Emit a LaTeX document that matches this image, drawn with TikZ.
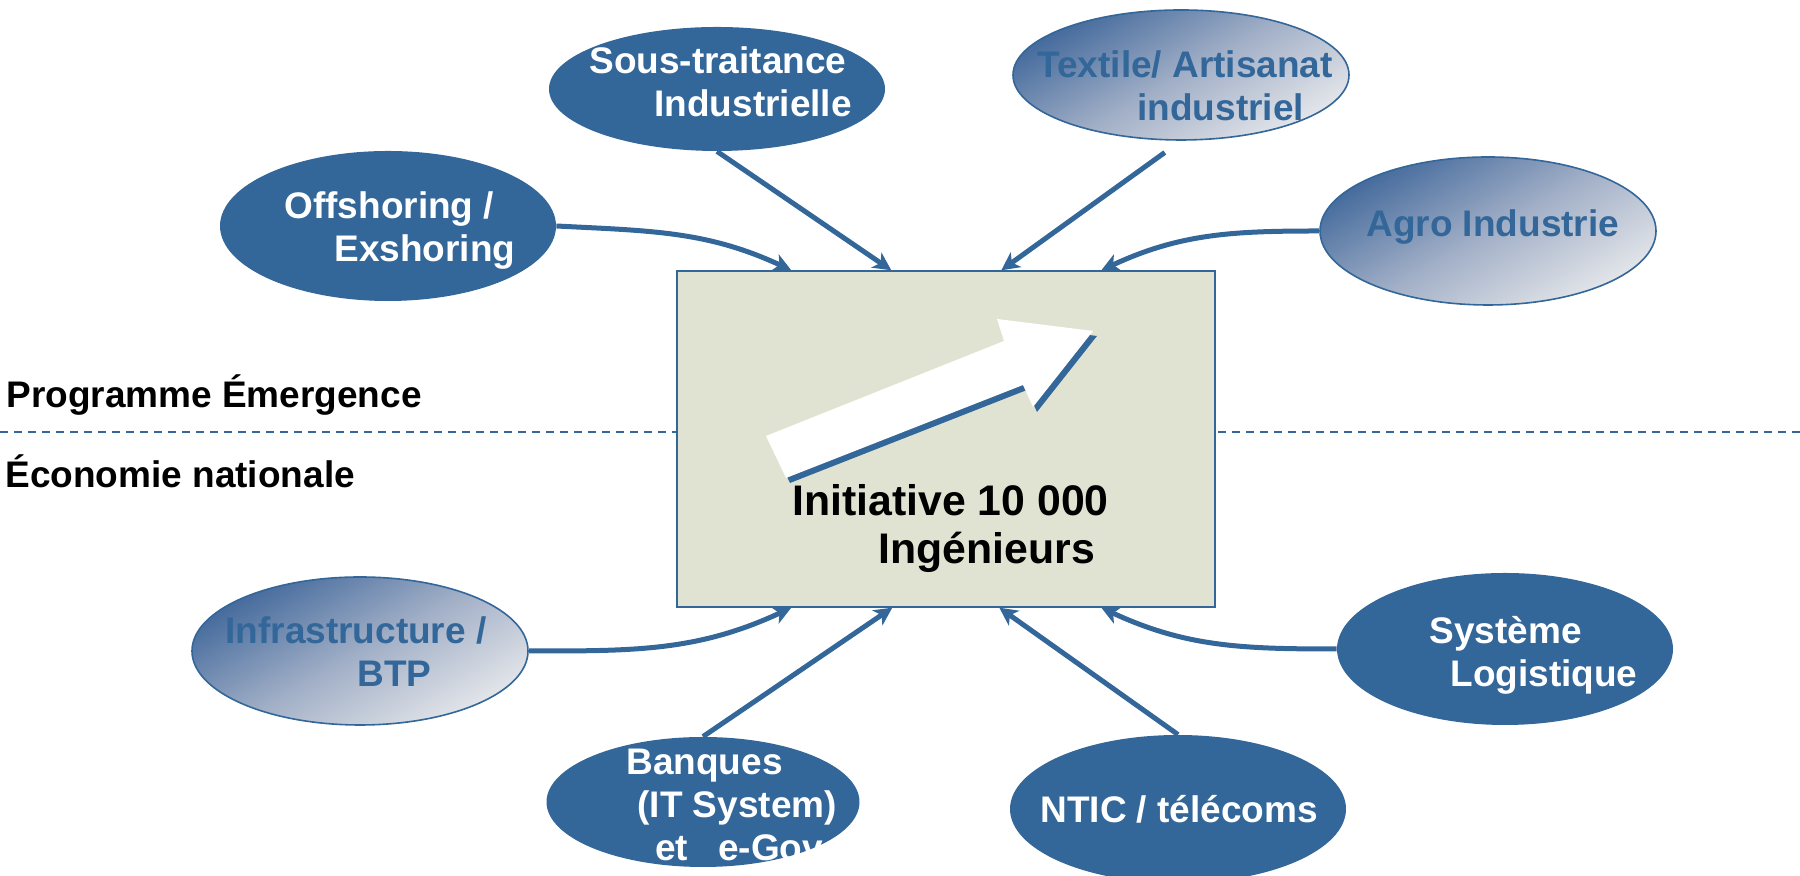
\documentclass[tikz,border=0pt]{standalone}
\usepackage{fontspec}
\setmainfont{Liberation Sans}
\usetikzlibrary{arrows.meta,calc,shapes.geometric}
\definecolor{bleu}{RGB}{51,102,153}
\definecolor{bleuclair}{RGB}{68,106,156}
\definecolor{milieu}{RGB}{160,174,198}
\definecolor{beige}{RGB}{225,227,210}
\definecolor{gris}{RGB}{228,230,234}
\begin{document}
\begin{tikzpicture}[x=0.5pt,y=0.5pt,
    pleine/.style={ellipse,fill=bleu,inner sep=0pt,minimum width=168pt},
    degrade/.style={ellipse,draw=bleu,line width=0.8pt,top color=bleuclair,bottom color=gris,middle color=milieu,shading angle=30,inner sep=0pt,minimum width=168pt},
    txt/.style={anchor=west,align=left,inner sep=0pt,font=\fontsize{18.5}{21.5}\selectfont\bfseries},
    fleche/.style={bleu,line width=2.5pt,-{Stealth[length=9pt,width=9pt,inset=2.5pt]}}]
    \useasboundingbox (0,0) rectangle (1800,876);
    \clip (0,0) rectangle (1800,876);
    % separation
    \draw[bleu,line width=0.7pt,dash pattern=on 4pt off 3pt] (0,444)--(1800,444);
    \node[txt,text=black] (prog) at (6,481) {Programme Émergence};
    \node[txt,text=black] (eco) at (5,405) {Économie nationale};
    % boite centrale
    \node[draw=bleu,fill=beige,line width=0.7pt,inner sep=0pt,minimum width=269pt,minimum height=168pt] (box) at (946,437) {};
    \foreach \couleur/\dx/\dy in {bleu/4/-5, white/0/0}
        \fill[\couleur,shift={(\dx,\dy)}] (766,440)--(1004,535)--(997,557)--(1093,545)--(1033,469)--(1023,491)--(786,398)--cycle;
    \node[txt,text=black,font=\fontsize{21.4}{24}\selectfont\bfseries] (init) at (792,347) {Initiative 10 000\\\hspace*{43pt}Ingénieurs};
    % ellipses
    \node[pleine,minimum height=62pt] (sous) at (717,787) {};
    \node[degrade,minimum height=65pt] (tex) at (1181,801) {};
    \node[pleine,minimum height=75pt] (offs) at (388,650) {};
    \node[degrade,minimum height=74pt] (agro) at (1488,645) {};
    \node[degrade,minimum height=74pt] (infra) at (360,225) {};
    \node[pleine,minimum height=76pt] (sys) at (1505,227) {};
    \node[pleine,minimum width=156.5pt,minimum height=65pt] (banq) at (703,74) {};
    \node[pleine,minimum height=74pt] (ntic) at (1178,67) {};
    \node[txt,text=white] (sous-t) at (589,794) {Sous-traitance\\\hspace*{32.5pt}Industrielle};
    \node[txt,text=bleu] (tex-t) at (1037,790) {Textile/ Artisanat\\\hspace*{50pt}industriel};
    \node[txt,text=white] (offs-t) at (284,645) {Offshoring /\\\hspace*{25pt}Exshoring};
    \node[txt,text=bleu] (agro-t) at (1366,649) {Agro Industrie};
    \node[txt,text=bleu] (infra-t) at (225,224) {Infrastructure /\\\hspace*{66pt}BTP};
    \node[txt,text=white] (sys-t) at (1429,221) {Système\\\hspace*{10.5pt}Logistique};
    \node[txt,text=white] (banq-t) at (626,71) {Banques\\\hspace*{5.5pt}(IT System)\\\hspace*{14.5pt}et\hspace*{15pt}e-Gov};
    \node[txt,text=white] (ntic-t) at (1040,67) {NTIC / télécoms};
    % fleches
    \draw[fleche] (offs.east) to[out=-3,in=155] ($(box.north west)+(115,0)$);
    \draw[fleche] (sous.south) -- ($(box.north west)+(215,0)$);
    \draw[fleche,shorten <=10pt] (tex.south) -- ($(box.north west)+(325,0)$);
    \draw[fleche] (agro.west) to[out=180,in=25] ($(box.north west)+(425,0)$);
    \draw[fleche] (infra.east) to[out=0,in=205] ($(box.south west)+(115,0)$);
    \draw[fleche] (banq.north) -- ($(box.south west)+(216,0)$);
    \draw[fleche] (ntic.north) -- ($(box.south west)+(323,0)$);
    \draw[fleche] (sys.west) to[out=180,in=-25] ($(box.south west)+(425,0)$);
\end{tikzpicture}
\end{document}
